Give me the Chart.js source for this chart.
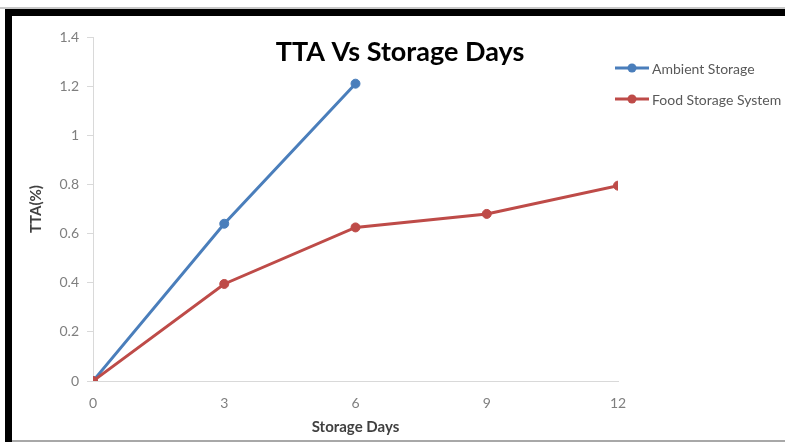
<!DOCTYPE html>
<html>
<head>
<meta charset="utf-8">
<script src="https://cdn.jsdelivr.net/npm/chart.js@4"></script>
<style>
  html, body { margin: 0; padding: 0; background: #fff; }
  #wrap { position: relative; width: 785px; height: 442px; overflow: hidden; }
  #chart { position: absolute; left: 0; top: 0; }
  .bar { position: absolute; pointer-events: none; }
</style>
</head>
<body>
<div id="wrap">
  <canvas id="chart" width="785" height="442"></canvas>
  <div class="bar" style="left:0;top:7px;width:785px;height:2px;background:#c8c8c8"></div>
  <div class="bar" style="left:5px;top:9px;width:780px;height:7px;background:#000"></div>
  <div class="bar" style="left:5px;top:9px;width:7px;height:433px;background:#000"></div>
  <div class="bar" style="left:12px;top:440px;width:773px;height:2px;background:#a8a8a8"></div>
</div>
<script>
// Values
const storageDays = [0, 3, 6, 9, 12];
const ambientStorage = [0, 0.64, 1.21];
const foodStorageSystem = [0, 0.395, 0.625, 0.68, 0.795];
const yTicks = [0, 0.2, 0.4, 0.6, 0.8, 1, 1.2, 1.4];

const chartTitle = 'TTA Vs Storage Days';
const fontFamily = 'Lato, "Open Sans", sans-serif';

function toPoints(xs, ys) {
    return ys.map((y, i) => ({ x: xs[i], y: y }));
}

// Excel-style title and legend drawn over the plot area
const overlayPlugin = {
    id: 'overlay',
    afterDraw(chart) {
        const ctx = chart.ctx;
        ctx.save();
        ctx.fillStyle = '#000';
        ctx.font = 'bold 27px ' + fontFamily;
        ctx.textAlign = 'center';
        ctx.textBaseline = 'middle';
        ctx.fillText(chartTitle, 400, 52);

        chart.data.datasets.forEach((ds, i) => {
            const y = 68 + i * 31;
            ctx.strokeStyle = ds.borderColor;
            ctx.lineWidth = 3;
            ctx.beginPath();
            ctx.moveTo(615, y);
            ctx.lineTo(649, y);
            ctx.stroke();
            ctx.fillStyle = ds.borderColor;
            ctx.beginPath();
            ctx.arc(632, y, 4.5, 0, Math.PI * 2);
            ctx.fill();
            ctx.fillStyle = '#595959';
            ctx.font = '14px ' + fontFamily;
            ctx.textAlign = 'left';
            ctx.fillText(ds.label, 652, y + 1);
        });
        ctx.restore();
    }
};

new Chart(document.getElementById('chart'), {
    type: 'line',
    data: {
        datasets: [
            {
                label: 'Ambient Storage',
                data: toPoints(storageDays, ambientStorage),
                borderColor: '#4a7ebb',
                backgroundColor: '#4a7ebb',
                borderWidth: 3,
                pointRadius: 4.5,
                pointBorderWidth: 1,
                pointHoverRadius: 4.5,
                order: 1
            },
            {
                label: 'Food Storage System',
                data: toPoints(storageDays, foodStorageSystem),
                borderColor: '#be4b48',
                backgroundColor: '#be4b48',
                borderWidth: 3,
                pointRadius: 4.5,
                pointBorderWidth: 1,
                pointHoverRadius: 4.5,
                order: 0
            }
        ]
    },
    options: {
        responsive: false,
        animation: false,
        layout: { padding: { left: 0, top: 37, right: 167, bottom: 0 } },
        scales: {
            x: {
                type: 'linear',
                min: 0,
                max: 12,
                afterBuildTicks: (scale) => { scale.ticks = storageDays.map(v => ({ value: v })); },
                afterFit: (scale) => { scale.height = 61; },
                grid: { drawOnChartArea: false, drawTicks: false },
                border: { display: true, color: '#d9d9d9', width: 1 },
                ticks: { padding: 14, color: '#7f7f7f', font: { family: fontFamily, size: 14 } },
                title: {
                    display: true,
                    text: 'Storage Days',
                    color: '#404040',
                    font: { family: fontFamily, size: 15, weight: 'bold' },
                    padding: { top: 0, bottom: 6 }
                }
            },
            y: {
                min: 0,
                max: 1.4,
                afterBuildTicks: (scale) => { scale.ticks = yTicks.map(v => ({ value: v })); },
                afterFit: (scale) => { scale.width = 93; },
                grid: { drawOnChartArea: false, drawTicks: true, tickLength: 6, color: '#d9d9d9' },
                border: { display: true, color: '#d9d9d9', width: 1 },
                ticks: {
                    padding: 8,
                    color: '#7f7f7f',
                    font: { family: fontFamily, size: 14 },
                    callback: (v) => String(+v.toFixed(1))
                },
                title: {
                    display: true,
                    text: 'TTA(%)',
                    color: '#404040',
                    font: { family: fontFamily, size: 15, weight: 'bold' },
                    padding: { top: 27, bottom: 0 }
                }
            }
        },
        plugins: {
            legend: { display: false },
            tooltip: { enabled: false }
        }
    },
    plugins: [overlayPlugin]
});
</script>
</body>
</html>
